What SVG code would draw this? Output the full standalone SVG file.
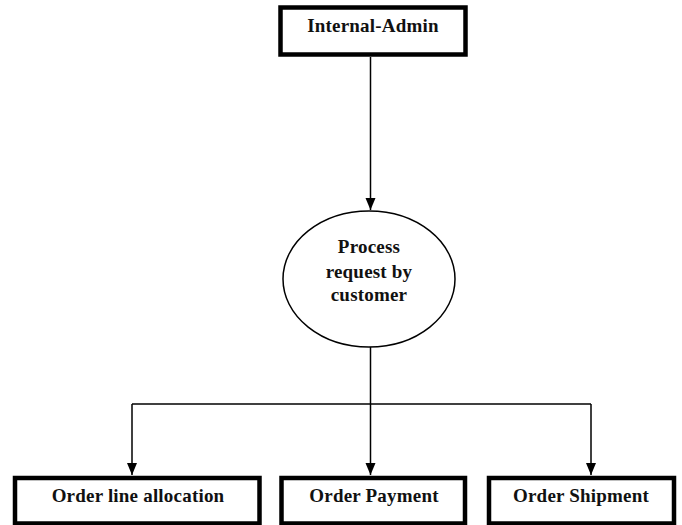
<svg xmlns="http://www.w3.org/2000/svg" width="682" height="525" viewBox="0 0 682 525">
<style>
.box{fill:#fff;stroke:#000;stroke-width:4.5}
.ell{fill:#fff;stroke:#000;stroke-width:1.5}
.lbl{font-family:"Liberation Serif","Times New Roman",serif;font-weight:bold;font-size:19px;fill:#111;text-anchor:middle;letter-spacing:0.2px}
.con{fill:none;stroke:#000;stroke-width:1.5}
</style>
<defs>
<marker id="arr" markerUnits="userSpaceOnUse" markerWidth="12" markerHeight="12" viewBox="0 0 12 12" refX="12" refY="6" orient="auto">
<path d="M0,1 L12,6 L0,11 Z" fill="#000"/>
</marker>
</defs>
<rect width="682" height="525" fill="#fff"/>
<g id="connectors">
<path class="con" d="M370.5,57 V210" marker-end="url(#arr)"/>
<path class="con" d="M370.5,347 V404"/>
<path class="con" d="M132,404 H591"/>
<path class="con" d="M132,404 V475" marker-end="url(#arr)"/>
<path class="con" d="M370.5,404 V475" marker-end="url(#arr)"/>
<path class="con" d="M591,404 V475" marker-end="url(#arr)"/>
</g>
<g id="internal-admin">
<rect class="box" x="280.5" y="7.5" width="185" height="47"/>
<text class="lbl" x="373" y="32">Internal-Admin</text>
</g>
<g id="process-request">
<ellipse class="ell" cx="369" cy="279" rx="86" ry="68"/>
<text class="lbl" x="369" y="253">Process</text>
<text class="lbl" x="369" y="277.5">request by</text>
<text class="lbl" x="369" y="301">customer</text>
</g>
<g id="order-line-allocation">
<rect class="box" x="15" y="478" width="244.5" height="45.5"/>
<text class="lbl" x="138" y="502">Order line allocation</text>
</g>
<g id="order-payment">
<rect class="box" x="281.5" y="478" width="183.5" height="45.5"/>
<text class="lbl" x="374" y="502">Order Payment</text>
</g>
<g id="order-shipment">
<rect class="box" x="489" y="478" width="185" height="45.5"/>
<text class="lbl" x="581" y="502">Order Shipment</text>
</g>
</svg>
